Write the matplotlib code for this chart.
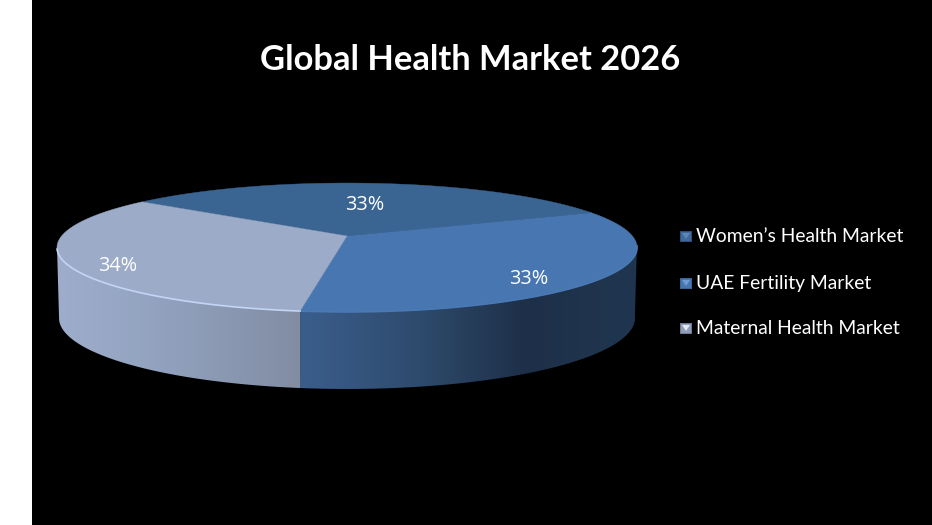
import numpy as np
import matplotlib
matplotlib.use('Agg')
import matplotlib.pyplot as plt
from matplotlib.colors import LinearSegmentedColormap
from matplotlib.patches import Polygon

plt.rcParams['font.family'] = ['Lato', 'DejaVu Sans']

TITLE = 'Global Health Market 2026'
CATEGORIES = ['Women\u2019s Health Market', 'UAE Fertility Market', 'Maternal Health Market']
VALUES = [33, 33, 34]
LABELS = ['33%', '33%', '34%']

TOP_COLORS = ['#3a6491', '#4776b0', '#9cabc8']
SIDE_STOPS = [None,
              ['#3a5e8c', '#2f4c6f', '#1e3048', '#203650'],
              ['#9dadcb', '#94a5c2', '#8b99b3', '#828da3']]
RIM_COLORS = [None, '#4a7ab6', '#c3d5f5']
LABEL_POS = [(365, 205), (529, 279), (118, 266)]
LEGEND_Y = [235, 282, 327]

START_ANGLE = 130.2
TILT = 0.178
WARP = 1.8


def project(phi, cx, cy, a, b):
    """Pie angle in degrees (clockwise on screen from the near side) to pixels."""
    phi = np.radians(phi)
    phi = phi - np.radians(WARP) * (1 - np.cos(phi))  # Office perspective is not quite true
    u, v = -np.sin(phi), np.cos(phi)
    d = 1 - TILT * v
    return cx + b * u / d, cy + a * v / d


def top_rim(phi):
    return project(phi, 347, 236, 62.4, 285.4)


def bottom_rim(phi):
    return project(phi, 347, 305.4, 68.7, 283.4)


def draw_side(ax, lo, hi, stops):
    x0, y0 = top_rim(np.linspace(lo, hi, 120))
    x1, y1 = bottom_rim(np.linspace(hi, lo, 120))
    xs = np.concatenate([x0, x1])
    ys = np.concatenate([y0, y1])
    poly = Polygon(np.column_stack([xs, ys]), closed=True, fc='none', ec='none')
    ax.add_patch(poly)
    cmap = LinearSegmentedColormap.from_list('side', stops)
    grad = np.linspace(0, 1, 256).reshape(1, -1)
    im = ax.imshow(grad, cmap=cmap, aspect='auto', interpolation='bilinear',
                   extent=[xs.min(), xs.max(), ys.max(), ys.min()], zorder=2)
    im.set_clip_path(poly)


def draw_marker(ax, x0, y0, cols):
    # little bevelled square of the legend
    base, light, dark = cols
    x1, y1 = x0 + 12, y0 + 11
    xm, ym = x0 + 6, y0 + 8
    ax.add_patch(Polygon([(x0, y0), (x1, y0), (x1, y1), (x0, y1)], fc=dark, ec='none', zorder=3))
    ax.add_patch(Polygon([(x0 + 1, y0 + 1), (x1 - 1, y0 + 1), (x1 - 1, y1 - 1), (x0 + 1, y1 - 1)],
                         fc=base, ec='none', zorder=4))
    ax.add_patch(Polygon([(x0 + 2, y0 + 2), (x1 - 2, y0 + 2), (xm, ym)], fc=light, ec='none', zorder=5))


def main():
    fig = plt.figure(figsize=(9.32, 5.25), dpi=100, facecolor='white')
    ax = fig.add_axes([0, 0, 1, 1])
    ax.set_xlim(0, 932)
    ax.set_ylim(525, 0)
    ax.axis('off')
    ax.add_patch(Polygon([(32, 0), (932, 0), (932, 525), (32, 525)], fc='black', ec='none', zorder=0))

    fracs = np.array(VALUES) / np.sum(VALUES)
    edges = START_ANGLE + 360 * np.concatenate([[0], np.cumsum(fracs)])
    front = np.degrees(np.arccos(TILT))

    for i in range(len(VALUES)):
        lo, hi = edges[i], edges[i + 1]
        phi = np.linspace(lo, hi, 200)
        x, y = top_rim(phi)
        pts = np.column_stack([np.r_[347, x], np.r_[236, y]])
        ax.add_patch(Polygon(pts, fc=TOP_COLORS[i], ec=TOP_COLORS[i], lw=0.3, zorder=3))

        s_lo, s_hi = max(lo, 360 - front), min(hi, 360 + front)
        if s_hi > s_lo and SIDE_STOPS[i]:
            draw_side(ax, s_lo, s_hi, SIDE_STOPS[i])
            xr, yr = top_rim(np.linspace(s_lo, s_hi, 120))
            ax.plot(xr, yr, color=RIM_COLORS[i], lw=1.2, zorder=4)

    for txt, (px, py) in zip(LABELS, LABEL_POS):
        ax.text(px, py, txt, color='white', fontsize=14.3, family=['Open Sans', 'DejaVu Sans'],
                ha='center', va='center', zorder=6)

    ax.text(470, 60.5, TITLE, color='white', fontsize=24.8, fontweight='bold',
            ha='center', va='center', zorder=6)

    marker_cols = [('#3f6a9a', '#5c86b8', '#2d4f75'),
                   ('#4776b0', '#6f9bd2', '#3a649a'),
                   ('#8e9cb8', '#e4e8f2', '#6e7a94')]
    for name, ly, cols in zip(CATEGORIES, LEGEND_Y, marker_cols):
        draw_marker(ax, 680, ly - 4, cols)
        ax.text(696, ly + 1, name, color='white', fontsize=13.9, ha='left', va='center', zorder=6)

    fig.savefig('out.png', dpi=100, facecolor=fig.get_facecolor())


if __name__ == '__main__':
    main()
